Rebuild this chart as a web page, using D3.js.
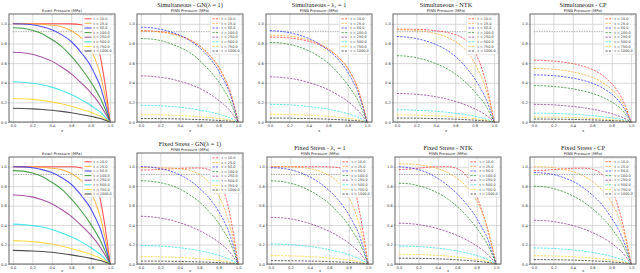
<!DOCTYPE html>
<html>
<head>
<meta charset="utf-8">
<script src="https://cdn.jsdelivr.net/npm/d3@7/dist/d3.min.js"></script>
<style>
  body { margin: 0; background: #fff; }
  svg { display: block; }
</style>
</head>
<body>
<div id="app"></div>
<script>
'use strict'

const xs = [0, 0.1, 0.2, 0.3, 0.4, 0.5, 0.6, 0.7, 0.8, 0.85, 0.9, 0.95, 1.0]

const timeLabels = ['t = 10.0', 't = 25.0', 't = 50.0', 't = 100.0', 't = 250.0', 't = 500.0', 't = 750.0', 't = 1000.0']
const tickValues = [0, 0.2, 0.4, 0.6, 0.8, 1.0]
const refLevel = 0.92

// one row per time step, same order as timeLabels
const exactPressure = [
  [1, 1, 1, 1, 1, 1, 0.999, 0.99, 0.95, 0.86, 0.66, 0.37, 0],
  [1, 1, 1, 0.995, 0.985, 0.97, 0.93, 0.86, 0.74, 0.63, 0.48, 0.26, 0],
  [1, 0.998, 0.99, 0.97, 0.94, 0.89, 0.82, 0.71, 0.57, 0.47, 0.36, 0.19, 0],
  [0.96, 0.955, 0.935, 0.9, 0.84, 0.77, 0.67, 0.55, 0.41, 0.33, 0.24, 0.13, 0],
  [0.71, 0.705, 0.69, 0.66, 0.62, 0.56, 0.49, 0.4, 0.3, 0.24, 0.17, 0.09, 0],
  [0.41, 0.405, 0.395, 0.38, 0.355, 0.32, 0.28, 0.23, 0.17, 0.135, 0.1, 0.05, 0],
  [0.24, 0.237, 0.23, 0.22, 0.205, 0.185, 0.16, 0.13, 0.1, 0.08, 0.06, 0.03, 0],
  [0.14, 0.138, 0.134, 0.128, 0.12, 0.108, 0.094, 0.077, 0.058, 0.047, 0.035, 0.018, 0]
]

const simGN = [
  [0.93, 0.928, 0.92, 0.905, 0.88, 0.84, 0.78, 0.69, 0.56, 0.47, 0.36, 0.2, 0],
  [0.925, 0.923, 0.915, 0.9, 0.875, 0.835, 0.775, 0.685, 0.555, 0.465, 0.355, 0.195, 0],
  [0.965, 0.96, 0.945, 0.92, 0.885, 0.83, 0.76, 0.66, 0.52, 0.43, 0.33, 0.18, 0],
  [0.85, 0.845, 0.83, 0.8, 0.76, 0.71, 0.63, 0.53, 0.41, 0.33, 0.25, 0.13, 0],
  [0.47, 0.466, 0.455, 0.44, 0.415, 0.385, 0.345, 0.29, 0.22, 0.18, 0.135, 0.07, 0],
  [0.17, 0.168, 0.165, 0.158, 0.15, 0.138, 0.122, 0.104, 0.08, 0.065, 0.049, 0.026, 0],
  [0.075, 0.074, 0.073, 0.07, 0.066, 0.061, 0.054, 0.046, 0.035, 0.029, 0.022, 0.011, 0],
  [0.035, 0.035, 0.034, 0.033, 0.031, 0.028, 0.025, 0.021, 0.016, 0.013, 0.01, 0.005, 0]
]

const simLambda = [
  [0.865, 0.863, 0.856, 0.843, 0.822, 0.79, 0.74, 0.665, 0.55, 0.465, 0.355, 0.195, 0],
  [0.885, 0.883, 0.875, 0.86, 0.835, 0.8, 0.745, 0.665, 0.545, 0.46, 0.35, 0.19, 0],
  [0.93, 0.925, 0.91, 0.885, 0.85, 0.8, 0.73, 0.64, 0.51, 0.42, 0.32, 0.17, 0],
  [0.81, 0.805, 0.79, 0.765, 0.725, 0.67, 0.6, 0.5, 0.38, 0.31, 0.23, 0.12, 0],
  [0.46, 0.456, 0.445, 0.428, 0.402, 0.37, 0.33, 0.275, 0.21, 0.17, 0.125, 0.065, 0],
  [0.18, 0.178, 0.175, 0.167, 0.158, 0.146, 0.13, 0.11, 0.085, 0.068, 0.052, 0.027, 0],
  [0.08, 0.079, 0.078, 0.074, 0.07, 0.065, 0.058, 0.049, 0.038, 0.03, 0.023, 0.012, 0],
  [0.04, 0.04, 0.039, 0.037, 0.035, 0.032, 0.029, 0.024, 0.019, 0.015, 0.012, 0.006, 0]
]

const simNTK = [
  [0.945, 0.945, 0.944, 0.94, 0.93, 0.915, 0.89, 0.84, 0.72, 0.61, 0.46, 0.25, 0],
  [0.94, 0.938, 0.932, 0.92, 0.9, 0.87, 0.82, 0.74, 0.6, 0.5, 0.38, 0.21, 0],
  [0.87, 0.865, 0.85, 0.825, 0.79, 0.74, 0.67, 0.57, 0.44, 0.36, 0.27, 0.15, 0],
  [0.675, 0.67, 0.655, 0.63, 0.595, 0.55, 0.49, 0.41, 0.31, 0.25, 0.19, 0.1, 0],
  [0.29, 0.288, 0.282, 0.272, 0.257, 0.237, 0.21, 0.177, 0.135, 0.11, 0.08, 0.043, 0],
  [0.124, 0.123, 0.12, 0.115, 0.109, 0.1, 0.089, 0.076, 0.058, 0.047, 0.036, 0.019, 0],
  [0.072, 0.071, 0.07, 0.067, 0.063, 0.058, 0.052, 0.044, 0.034, 0.027, 0.021, 0.011, 0],
  [0.04, 0.04, 0.039, 0.037, 0.035, 0.032, 0.029, 0.024, 0.019, 0.015, 0.012, 0.006, 0]
]

const simCP = [
  [0.63, 0.628, 0.62, 0.61, 0.595, 0.57, 0.535, 0.48, 0.39, 0.33, 0.25, 0.14, 0],
  [0.545, 0.543, 0.537, 0.527, 0.51, 0.487, 0.455, 0.405, 0.33, 0.28, 0.21, 0.115, 0],
  [0.48, 0.478, 0.472, 0.462, 0.447, 0.425, 0.395, 0.35, 0.285, 0.24, 0.18, 0.1, 0],
  [0.37, 0.368, 0.362, 0.352, 0.338, 0.318, 0.292, 0.255, 0.205, 0.172, 0.13, 0.07, 0],
  [0.18, 0.178, 0.175, 0.167, 0.158, 0.146, 0.13, 0.11, 0.085, 0.068, 0.052, 0.027, 0],
  [0.09, 0.089, 0.087, 0.084, 0.079, 0.073, 0.065, 0.055, 0.042, 0.034, 0.026, 0.014, 0],
  [0.05, 0.05, 0.049, 0.047, 0.044, 0.041, 0.036, 0.031, 0.024, 0.019, 0.015, 0.008, 0],
  [0.03, 0.03, 0.029, 0.028, 0.026, 0.024, 0.022, 0.018, 0.014, 0.011, 0.009, 0.005, 0]
]

const fsGN = [
  [0.965, 0.967, 0.971, 0.976, 0.981, 0.985, 0.986, 0.97, 0.87, 0.76, 0.58, 0.32, 0],
  [0.99, 0.99, 0.988, 0.985, 0.978, 0.96, 0.92, 0.84, 0.7, 0.59, 0.45, 0.25, 0],
  [1.0, 0.995, 0.98, 0.955, 0.915, 0.86, 0.78, 0.68, 0.54, 0.45, 0.34, 0.19, 0],
  [0.855, 0.85, 0.835, 0.81, 0.77, 0.71, 0.64, 0.54, 0.42, 0.34, 0.26, 0.14, 0],
  [0.49, 0.485, 0.472, 0.452, 0.424, 0.388, 0.344, 0.29, 0.225, 0.185, 0.138, 0.074, 0],
  [0.19, 0.188, 0.184, 0.177, 0.167, 0.154, 0.137, 0.116, 0.089, 0.072, 0.055, 0.029, 0],
  [0.076, 0.075, 0.074, 0.071, 0.067, 0.062, 0.055, 0.046, 0.036, 0.029, 0.022, 0.011, 0],
  [0.03, 0.03, 0.029, 0.028, 0.026, 0.024, 0.022, 0.018, 0.014, 0.011, 0.009, 0.005, 0]
]

const fsLambda = [
  [1, 1, 1, 1, 1, 1, 0.998, 0.99, 0.93, 0.82, 0.6, 0.32, 0],
  [1, 1, 0.998, 0.993, 0.98, 0.955, 0.91, 0.83, 0.69, 0.58, 0.44, 0.24, 0],
  [0.99, 0.985, 0.97, 0.94, 0.895, 0.835, 0.755, 0.65, 0.51, 0.42, 0.32, 0.17, 0],
  [0.855, 0.85, 0.83, 0.8, 0.755, 0.695, 0.62, 0.52, 0.4, 0.32, 0.24, 0.13, 0],
  [0.48, 0.476, 0.464, 0.444, 0.416, 0.38, 0.336, 0.282, 0.216, 0.176, 0.13, 0.07, 0],
  [0.205, 0.203, 0.199, 0.191, 0.18, 0.166, 0.148, 0.125, 0.096, 0.078, 0.059, 0.031, 0],
  [0.086, 0.085, 0.083, 0.08, 0.076, 0.07, 0.062, 0.052, 0.04, 0.033, 0.025, 0.013, 0],
  [0.034, 0.034, 0.033, 0.032, 0.03, 0.028, 0.024, 0.021, 0.016, 0.013, 0.01, 0.005, 0]
]

const fsNTK = [
  [0.97, 0.975, 0.985, 0.995, 1.0, 1.0, 0.98, 0.9, 0.7, 0.56, 0.4, 0.21, 0],
  [1.03, 1.028, 1.02, 1.005, 0.98, 0.94, 0.88, 0.79, 0.65, 0.54, 0.41, 0.22, 0],
  [1.0, 0.99, 0.97, 0.935, 0.88, 0.81, 0.72, 0.61, 0.47, 0.38, 0.29, 0.15, 0],
  [0.83, 0.825, 0.805, 0.775, 0.73, 0.67, 0.59, 0.49, 0.37, 0.3, 0.22, 0.12, 0],
  [0.42, 0.416, 0.405, 0.388, 0.363, 0.332, 0.293, 0.245, 0.187, 0.152, 0.113, 0.06, 0],
  [0.185, 0.183, 0.179, 0.172, 0.163, 0.15, 0.133, 0.113, 0.087, 0.07, 0.054, 0.028, 0],
  [0.1, 0.099, 0.097, 0.093, 0.088, 0.081, 0.072, 0.061, 0.047, 0.038, 0.029, 0.015, 0],
  [0.06, 0.059, 0.058, 0.056, 0.053, 0.049, 0.043, 0.037, 0.028, 0.023, 0.017, 0.009, 0]
]

const fsCP = [
  [0.96, 0.963, 0.97, 0.977, 0.983, 0.985, 0.975, 0.92, 0.78, 0.64, 0.47, 0.25, 0],
  [1.0, 0.998, 0.99, 0.975, 0.95, 0.91, 0.85, 0.76, 0.63, 0.53, 0.4, 0.22, 0],
  [0.94, 0.935, 0.92, 0.89, 0.85, 0.79, 0.71, 0.61, 0.47, 0.39, 0.29, 0.16, 0],
  [0.8, 0.795, 0.775, 0.745, 0.7, 0.645, 0.57, 0.48, 0.365, 0.295, 0.22, 0.12, 0],
  [0.45, 0.446, 0.436, 0.419, 0.396, 0.365, 0.324, 0.275, 0.212, 0.171, 0.13, 0.068, 0],
  [0.165, 0.163, 0.16, 0.153, 0.145, 0.134, 0.119, 0.101, 0.078, 0.063, 0.048, 0.025, 0],
  [0.085, 0.084, 0.082, 0.079, 0.075, 0.069, 0.061, 0.052, 0.04, 0.032, 0.025, 0.013, 0],
  [0.045, 0.045, 0.044, 0.042, 0.04, 0.036, 0.032, 0.027, 0.021, 0.017, 0.013, 0.007, 0]
]

const lineColors = ['#ff2a2a', '#ffa726', '#2a2aff', '#1f8a1f', '#8e2a8e', '#22e0e6', '#ffd21f', '#222222']

const W = 640
const H = 273
const PW = 106

const panels = [
  { title: '', sub: 'Exact Pressure (MPa)', data: exactPressure, left: 9, top: 14, bottom: 122, yMax: 1.1, dashed: false },
  { title: 'Simultaneous - GN(λ = 1)', sub: 'PINN Pressure (MPa)', data: simGN, left: 137, top: 14, bottom: 122, yMax: 1.1, dashed: true },
  { title: 'Simultaneous - λ\u2081 = 1', sub: 'PINN Pressure (MPa)', data: simLambda, left: 266, top: 14, bottom: 122, yMax: 1.1, dashed: true },
  { title: 'Simultaneous - NTK', sub: 'PINN Pressure (MPa)', data: simNTK, left: 393, top: 14, bottom: 122, yMax: 1.1, dashed: true },
  { title: 'Simultaneous - CP', sub: 'PINN Pressure (MPa)', data: simCP, left: 530, top: 14, bottom: 122, yMax: 1.1, dashed: true },
  { title: '', sub: 'Exact Pressure (MPa)', data: exactPressure, left: 9, top: 157, bottom: 264, yMax: 1.1, dashed: false },
  { title: 'Fixed Stress - GN(λ = 1)', sub: 'PINN Pressure (MPa)', data: fsGN, left: 137, top: 153, bottom: 264, yMax: 1.14, dashed: true },
  { title: 'Fixed Stress - λ\u2081 = 1', sub: 'PINN Pressure (MPa)', data: fsLambda, left: 267, top: 157, bottom: 264, yMax: 1.1, dashed: true },
  { title: 'Fixed Stress - NTK', sub: 'PINN Pressure (MPa)', data: fsNTK, left: 395, top: 157, bottom: 264, yMax: 1.1, dashed: true },
  { title: 'Fixed Stress - CP', sub: 'PINN Pressure (MPa)', data: fsCP, left: 530, top: 157, bottom: 264, yMax: 1.1, dashed: true }
]

const svg = d3.select('#app')
  .append('svg')
  .attr('width', W)
  .attr('height', H)

svg.append('rect')
  .attr('width', W)
  .attr('height', H)
  .attr('fill', '#fff')

const fmt = d3.format('.1f')

const drawPanel = p => {
  const g = svg.append('g')
  const right = p.left + PW

  const scaleX = d3.scaleLinear()
    .domain([-0.04, 1.05])
    .range([p.left, right])

  const scaleY = d3.scaleLinear()
    .domain([0, p.yMax])
    .range([p.bottom, p.top])

  // grid
  g.append('g')
    .attr('transform', `translate(0,${p.bottom})`)
    .call(d3.axisBottom(scaleX).tickValues(tickValues).tickSize(-(p.bottom - p.top)).tickFormat(''))
    .call(a => a.select('.domain').remove())
    .call(a => a.selectAll('line').attr('stroke', '#c8c8c8').attr('stroke-width', 0.7))

  g.append('g')
    .attr('transform', `translate(${p.left},0)`)
    .call(d3.axisLeft(scaleY).tickValues(tickValues).tickSize(-PW).tickFormat(''))
    .call(a => a.select('.domain').remove())
    .call(a => a.selectAll('line').attr('stroke', '#c8c8c8').attr('stroke-width', 0.7))

  // tick labels
  g.append('g')
    .attr('transform', `translate(0,${p.bottom})`)
    .call(d3.axisBottom(scaleX).tickValues(tickValues).tickSize(1.2).tickPadding(1).tickFormat(fmt))
    .call(a => a.select('.domain').remove())
    .call(a => a.selectAll('line').attr('stroke', '#555').attr('stroke-width', 0.5))
    .call(a => a.selectAll('text').attr('font-size', 3.6).attr('fill', '#333').attr('font-family', 'DejaVu Sans'))

  g.append('g')
    .attr('transform', `translate(${p.left},0)`)
    .call(d3.axisLeft(scaleY).tickValues(tickValues).tickSize(1.2).tickPadding(1).tickFormat(fmt))
    .call(a => a.select('.domain').remove())
    .call(a => a.selectAll('line').attr('stroke', '#555').attr('stroke-width', 0.5))
    .call(a => a.selectAll('text').attr('font-size', 3.6).attr('fill', '#333').attr('font-family', 'DejaVu Sans'))

  // reference level
  g.append('line')
    .attr('x1', scaleX(0))
    .attr('x2', scaleX(1))
    .attr('y1', scaleY(refLevel))
    .attr('y2', scaleY(refLevel))
    .attr('stroke', '#999')
    .attr('stroke-width', 0.8)
    .attr('stroke-dasharray', '1.5,1')

  const line = d3.line()
    .x((d, i) => scaleX(xs[i]))
    .y(d => scaleY(d))
    .curve(d3.curveMonotoneX)

  g.append('g')
    .selectAll('path')
    .data(p.data)
    .enter()
    .append('path')
    .attr('d', line)
    .attr('fill', 'none')
    .attr('stroke', (d, i) => lineColors[i])
    .attr('stroke-width', p.dashed ? 0.9 : 1.1)
    .attr('stroke-opacity', 0.8)
    .attr('stroke-dasharray', p.dashed ? '2.2,1.2' : null)

  // frame
  g.append('rect')
    .attr('x', p.left)
    .attr('y', p.top)
    .attr('width', PW)
    .attr('height', p.bottom - p.top)
    .attr('fill', 'none')
    .attr('stroke', '#666')
    .attr('stroke-width', 1)

  // legend
  const lgW = 31
  const rowH = 4.6
  const lgX = right - lgW - 1.5
  const lgY = p.top + 1.5
  const lg = g.append('g').attr('transform', `translate(${lgX},${lgY})`)
  lg.append('rect')
    .attr('width', lgW)
    .attr('height', rowH * timeLabels.length + 2)
    .attr('rx', 0.8)
    .attr('fill', '#fff')
    .attr('fill-opacity', 0.85)
    .attr('stroke', '#ccc')
    .attr('stroke-width', 0.4)

  const rows = lg.selectAll('g.row')
    .data(timeLabels)
    .enter()
    .append('g')
    .attr('transform', (d, i) => `translate(2,${1 + rowH * (i + 0.5)})`)

  rows.append('line')
    .attr('x1', 0)
    .attr('x2', 7)
    .attr('stroke', (d, i) => lineColors[i])
    .attr('stroke-width', p.dashed ? 0.9 : 1.1)
    .attr('stroke-opacity', 0.8)
    .attr('stroke-dasharray', p.dashed ? '2.2,1.2' : null)

  rows.append('text')
    .attr('x', 9)
    .attr('dy', '0.35em')
    .attr('font-size', 3.4)
    .attr('font-family', 'DejaVu Sans')
    .attr('fill', '#333')
    .text(d => d)

  const cx = p.left + PW / 2

  // titles
  if (p.title) {
    g.append('text')
      .attr('x', cx)
      .attr('y', p.top - 7.5)
      .attr('text-anchor', 'middle')
      .attr('font-size', 6.3)
      .attr('font-family', 'Liberation Serif')
      .attr('fill', '#222')
      .text(p.title)
  }

  g.append('text')
    .attr('x', cx)
    .attr('y', p.top - 1.6)
    .attr('text-anchor', 'middle')
    .attr('font-size', 3.8)
    .attr('font-family', 'DejaVu Sans')
    .attr('fill', '#333')
    .text(p.sub)

  g.append('text')
    .attr('x', cx)
    .attr('y', Math.min(p.bottom + 9.5, H - 1))
    .attr('text-anchor', 'middle')
    .attr('font-size', 3.8)
    .attr('font-family', 'DejaVu Sans')
    .attr('fill', '#333')
    .text('x')
}

panels.forEach(drawPanel)
</script>
</body>
</html>
